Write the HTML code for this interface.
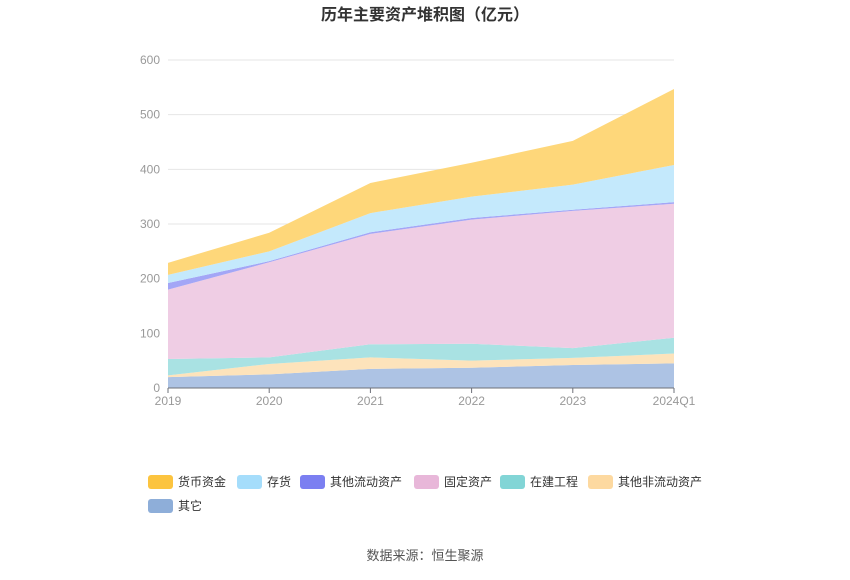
<!DOCTYPE html>
<html><head><meta charset="utf-8"><style>
body{margin:0;background:#fff;font-family:"Liberation Sans","Noto Sans CJK SC",sans-serif;}
svg text{font-family:"Liberation Sans","Noto Sans CJK SC",sans-serif;}
</style></head><body>
<svg id="c" width="850" height="575">
<text x="425" y="20" text-anchor="middle" font-size="16" font-weight="bold" fill="#333">历年主要资产堆积图（亿元）</text>
<g id="grid"></g><g id="areas"></g><g id="axes"></g><g id="legend"></g>
<text x="425" y="560" text-anchor="middle" font-size="13" fill="#555">数据来源：恒生聚源</text>
</svg>
<script>
const categories=["2019","2020","2021","2022","2023","2024Q1"];
const yTicks=[0,100,200,300,400,500,600];
const seriesNames=["其它","其他非流动资产","在建工程","固定资产","其他流动资产","存货","货币资金"];
const other=[20,25,35,37,42,45];
const otherNonCurrent=[3,19,21,13,13,18];
const construction=[30,12,24,31,18,29];
const fixedAssets=[127,174,202,227,251,245];
const otherCurrent=[12,2,3,3,2,3];
const inventory=[15,18,35,39,46,68];
const cash=[22,34,55,62,80,139];
const seriesData=[other,otherNonCurrent,construction,fixedAssets,otherCurrent,inventory,cash];
const fills=["#adc3e4","#fde3bb","#a9e2e3","#efcde4","#a3a6f6","#c4e9fc","#fed77a"];
const legendColors=["#8eaed9","#fdd9a0","#82d5d6","#e8b7d9","#7b7ff1","#a5ddfb","#fcc43f"];
const X0=168,X1=674,Y0=388,Y1=60;
const x=i=>X0+(X1-X0)*i/(categories.length-1);
const y=v=>Y0-(Y0-Y1)*v/600;
const NS="http://www.w3.org/2000/svg";
function mk(t,a,p){const e=document.createElementNS(NS,t);for(const k in a)e.setAttribute(k,a[k]);p.appendChild(e);return e;}
const grid=document.getElementById('grid'),axes=document.getElementById('axes'),areas=document.getElementById('areas'),legend=document.getElementById('legend');
yTicks.forEach(v=>{
 const l=mk('line',{x1:X0,x2:X1,y1:y(v),y2:y(v),stroke:"#e6e6e6"},grid);
 
 
 const t=mk('text',{x:160,y:y(v)+4,"text-anchor":"end","font-size":12,fill:"#999"},axes);
 t.textContent=v;
 
 
});
let base=categories.map(()=>0);
seriesData.forEach((s,k)=>{
 const top=base.map((b,i)=>b+s[i]);
 let d="M"+top.map((v,i)=>x(i)+","+y(v)).join("L");
 for(let i=categories.length-1;i>=0;i--)d+="L"+x(i)+","+y(base[i]);
 const p=mk('path',{d:d+"Z",fill:fills[k]},areas);
 
 
 base=top;
});
const ax=mk('line',{x1:X0,x2:X1,y1:Y0,y2:Y0,stroke:"#6e7079"},axes);


categories.forEach((c,i)=>{
 const tk=mk('line',{x1:x(i),x2:x(i),y1:Y0,y2:Y0+5,stroke:"#6e7079"},axes);
 
 
 const t=mk('text',{x:x(i),y:405,"text-anchor":"middle","font-size":12,fill:"#999"},axes);
 t.textContent=c;
 
 
});
const legendOrder=[6,5,4,3,2,1,0];
const lx=[148,237,300,414,500,588,148],ly=[482,482,482,482,482,482,506];
legendOrder.forEach((k,j)=>{
 const g=mk('g',{},legend);
 
 
 mk('rect',{x:lx[j],y:ly[j]-7,width:25,height:14,rx:3,fill:legendColors[k]},g);
 const t=mk('text',{x:lx[j]+30,y:ly[j]+4,"font-size":12,fill:"#333"},g);
 t.textContent=seriesNames[k];
});
</script>
</body></html>
